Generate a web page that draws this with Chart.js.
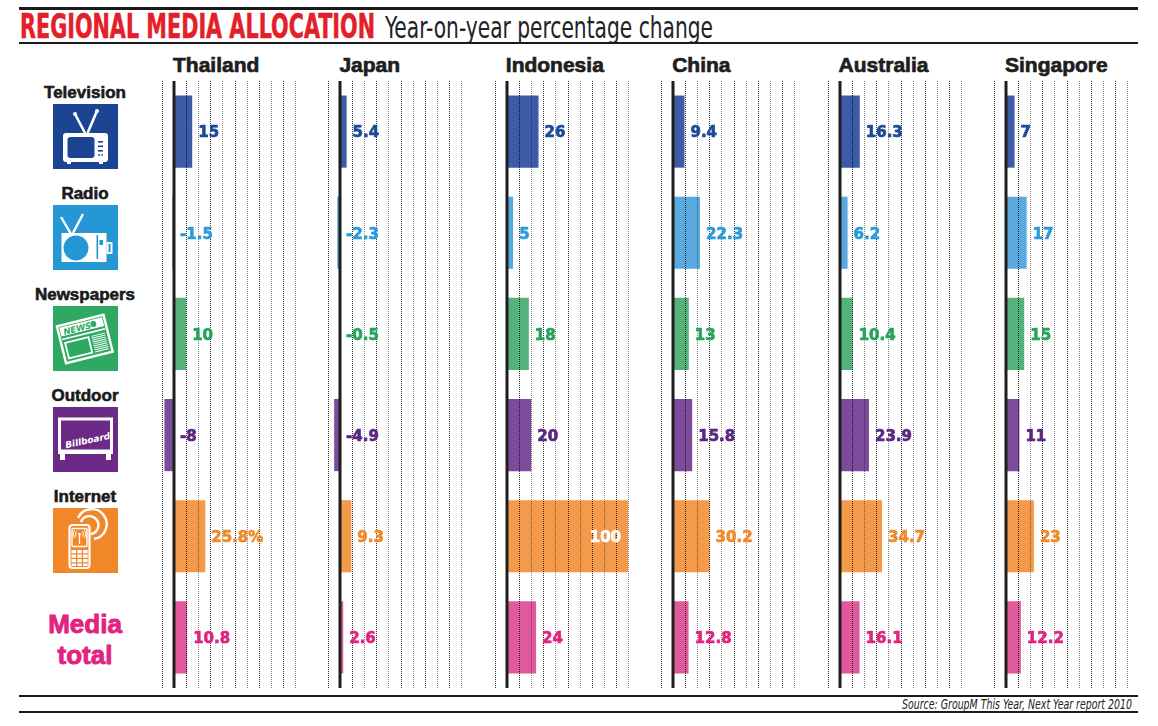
<!DOCTYPE html>
<html>
<head>
<meta charset="utf-8">
<script src="https://cdn.jsdelivr.net/npm/chart.js@4.4.1/dist/chart.umd.min.js"></script>
<style>
  html, body { margin: 0; padding: 0; background: #fff; }
  #page { position: relative; width: 1158px; height: 726px; overflow: hidden; font-family: "Liberation Sans", Arial, sans-serif; color: #1a1a1a; }
  .rule { position: absolute; left: 19px; width: 1119px; background: #1a1a1a; }
  .fit { position: absolute; white-space: nowrap; transform-origin: 0 50%; }
  #title { left: 20px; top: 10px; font: bold 33px "Liberation Sans Narrow", "DejaVu Sans Condensed", sans-serif; color: #e3202a; line-height: 34px; -webkit-text-stroke: 0.5px #e3202a; }
  #subtitle { left: 385px; top: 10px; font: 31px "Liberation Sans Narrow", "DejaVu Sans Condensed", sans-serif; color: #222; line-height: 34px; }
  #source { top: 696px; font: italic 14px "Liberation Sans Narrow", "DejaVu Sans Condensed", sans-serif; color: #222; line-height: 16px; }
  .country { position: absolute; top: 53px; font: bold 21px "Liberation Sans", Arial, sans-serif; line-height: 24px; color: #1e1e1e; -webkit-text-stroke: 0.7px #1e1e1e; }
  .media { position: absolute; width: 170px; text-align: center; font: bold 17px "Liberation Sans", Arial, sans-serif; line-height: 20px; color: #1a1a1a; -webkit-text-stroke: 0.6px #1a1a1a; }
  .icon { position: absolute; left: 53px; width: 65px; height: 65px; }
  .total { position: absolute; left: 0; width: 170px; text-align: center; font: bold 26px "Liberation Sans", Arial, sans-serif; line-height: 31px; color: #e2237f; -webkit-text-stroke: 0.9px #e2237f; }
  .panel { position: absolute; top: 81px; height: 607px; }
</style>
</head>
<body>
<div id="page">
  <div class="rule" style="top:7px;height:3px"></div>
  <div class="fit" id="title">REGIONAL MEDIA ALLOCATION</div>
  <div class="fit" id="subtitle">Year-on-year percentage change</div>
  <div class="rule" style="top:42px;height:2px"></div>
  <div class="rule" style="top:695px;height:2px"></div>
  <div class="fit" id="source">Source: GroupM This Year, Next Year report 2010</div>
  <div class="rule" style="top:711px;height:2px"></div>
  <div id="rows"></div>
  <div id="panels"></div>
</div>

<script>
// data
const countries = ['Thailand', 'Japan', 'Indonesia', 'China', 'Australia', 'Singapore']
const mediaTypes = ['Television', 'Radio', 'Newspapers', 'Outdoor', 'Internet', 'Media total']

const thailand = [15, -1.5, 10, -8, 25.8, 10.8]
const japan = [5.4, -2.3, -0.5, -4.9, 9.3, 2.6]
const indonesia = [26, 5, 18, 20, 100, 24]
const china = [9.4, 22.3, 13, 15.8, 30.2, 12.8]
const australia = [16.3, 6.2, 10.4, 23.9, 34.7, 16.1]
const singapore = [7, 17, 15, 11, 23, 12.2]

// only one cell in the original carries a % sign
const percentCell = { country: 'Thailand', media: 'Internet' }

const xMin = -10
const xMax = 100
const xStep = 10

const seriesByCountry = [thailand, japan, indonesia, china, australia, singapore]

// styles
const barColors = ['#3d5ca8', '#5aa9de', '#55b27b', '#7c4c9b', '#f39a4b', '#e05a9b']
const textColors = ['#1c4a99', '#2b9ad8', '#25a45c', '#5c2683', '#f08a2a', '#e2237f']
const iconColors = ['#1b4593', '#2597d4', '#2ea862', '#6a2a86', '#f0882a']

const firstZero = 174
const panelStep = 166.4
const unitPx = 133 / (xMax - xMin)
const pad = 2

// icons, plain white drawings on a coloured square
const icons = [
  // television
  `<line x1="22" y1="10" x2="32" y2="29" stroke="#fff" stroke-width="2.6" stroke-linecap="round"/>
   <line x1="44" y1="7" x2="35" y2="28" stroke="#fff" stroke-width="2.6" stroke-linecap="round"/>
   <circle cx="22" cy="10" r="2" fill="#fff"/><circle cx="44" cy="7" r="2" fill="#fff"/>
   <rect x="10" y="29" width="45" height="29" rx="3" fill="#fff"/>
   <rect x="14.5" y="33" width="27" height="21" rx="3" fill="COL"/>
   <rect x="45" y="37" width="5" height="1.6" fill="COL"/><rect x="45" y="41.5" width="5" height="1.6" fill="COL"/>
   <rect x="45" y="46" width="5" height="1.6" fill="COL"/>
   <circle cx="46" cy="51" r="0.9" fill="COL"/><circle cx="49" cy="51" r="0.9" fill="COL"/>
   <rect x="14" y="58" width="4" height="2" fill="#fff"/><rect x="46" y="58" width="4" height="2" fill="#fff"/>`,
  // radio
  `<line x1="8" y1="12" x2="18" y2="29" stroke="#fff" stroke-width="2.4"/>
   <line x1="30" y1="9" x2="20" y2="28" stroke="#fff" stroke-width="2.4"/>
   <rect x="8.5" y="28" width="45" height="29" fill="#fff"/>
   <circle cx="23" cy="43" r="12.5" fill="COL"/>
   <rect x="43.5" y="30" width="1.6" height="24" fill="COL"/>
   <rect x="46.5" y="35" width="3.5" height="5" fill="COL"/>
   <rect x="53.5" y="37" width="6" height="12" fill="#fff"/>
   <rect x="55.5" y="39" width="2" height="8" fill="COL"/>`,
  // newspapers
  `<g transform="rotate(-14 32 34)">
     <rect x="8" y="14" width="48" height="38" fill="none" stroke="#fff" stroke-width="2.4"/>
     <rect x="10" y="16" width="44" height="9" fill="#fff"/>
     <text x="13" y="24" font-family="DejaVu Sans" font-weight="bold" font-style="italic" font-size="8.5" fill="COL">NEWS</text>
     <circle cx="44" cy="20.5" r="3" fill="COL"/>
     <line x1="10" y1="28" x2="54" y2="28" stroke="#fff" stroke-width="1.6"/>
     <rect x="12" y="32" width="24" height="16" fill="none" stroke="#fff" stroke-width="1.8"/>
     <path d="M39 32h14M39 34h14M39 36h14M39 38h14M39 40h14M39 42h14M39 44h14M39 46h14M39 48h14" stroke="#fff" stroke-width="1"/>
   </g>`,
  // outdoor
  `<rect x="6.5" y="12" width="52" height="32" fill="none" stroke="#fff" stroke-width="3"/>
   <rect x="5" y="43" width="55" height="4" fill="#fff"/>
   <rect x="7" y="46" width="5" height="7" fill="#fff"/><rect x="53" y="46" width="5" height="7" fill="#fff"/>
   <text x="11" y="37" transform="rotate(-12 32 30)" font-family="DejaVu Sans" font-weight="bold" font-style="italic" font-size="9" fill="#fff">Billboard</text>`,
  // internet
  `<rect x="16.5" y="17" width="20" height="43" rx="3" fill="none" stroke="#fff" stroke-width="2.2"/>
   <rect x="19" y="20.5" width="15" height="18" rx="1" fill="none" stroke="#fff" stroke-width="1.4"/>
   <line x1="26.5" y1="27" x2="26.5" y2="36" stroke="#fff" stroke-width="1.3"/>
   <circle cx="26.5" cy="26" r="1.3" fill="#fff"/>
   <path d="M23.5 23.5a4 4 0 0 0 0 5M29.5 23.5a4 4 0 0 1 0 5M21.5 22a7 7 0 0 0 0 8M31.5 22a7 7 0 0 1 0 8" fill="none" stroke="#fff" stroke-width="1"/>
   <g fill="#fff">
     <rect x="18.5" y="42" width="4.5" height="3.3"/><rect x="24.3" y="42" width="4.5" height="3.3"/><rect x="30.1" y="42" width="4.5" height="3.3"/>
     <rect x="18.5" y="46.5" width="4.5" height="3.3"/><rect x="24.3" y="46.5" width="4.5" height="3.3"/><rect x="30.1" y="46.5" width="4.5" height="3.3"/>
     <rect x="18.5" y="51" width="4.5" height="3.3"/><rect x="24.3" y="51" width="4.5" height="3.3"/><rect x="30.1" y="51" width="4.5" height="3.3"/>
     <rect x="18.5" y="55.5" width="4.5" height="2.5"/><rect x="24.3" y="55.5" width="4.5" height="2.5"/><rect x="30.1" y="55.5" width="4.5" height="2.5"/>
   </g>
   <path d="M28 14a9 9 0 1 1 10 12" fill="none" stroke="#fff" stroke-width="2.4"/>
   <path d="M25 10a15 15 0 1 1 16 21" fill="none" stroke="#fff" stroke-width="2.4"/>`
]

const rows = document.getElementById('rows')
mediaTypes.forEach((m, i) => {
  const top = 81 + i * 101
  if (i < 5) {
    const lab = document.createElement('div')
    lab.className = 'media'
    lab.style.left = '0px'
    lab.style.top = (top + 2) + 'px'
    lab.textContent = m
    rows.appendChild(lab)
    const ic = document.createElement('div')
    ic.className = 'icon'
    ic.style.top = (top + 23) + 'px'
    ic.innerHTML = '<svg width="65" height="65" viewBox="0 0 65 65"><rect width="65" height="65" fill="' + iconColors[i] + '"/>' +
      icons[i].replace(/COL/g, iconColors[i]) + '</svg>'
    rows.appendChild(ic)
  } else {
    m.split(' ').forEach((w, k) => {
      const t = document.createElement('div')
      t.className = 'total'
      t.style.top = (top + 23 + k * 31) + 'px'
      t.textContent = k === 0 ? w : w.toLowerCase()
      rows.appendChild(t)
    })
  }
})

// dotted grid printed over the bars (multiply, so it darkens the colour)
const gridOnTop = {
  id: 'gridOnTop',
  afterDraw(chart) {
    const ctx = chart.ctx
    const xs = chart.scales.x
    const area = chart.chartArea
    ctx.save()
    xs.ticks.forEach(t => {
      const x = Math.round(xs.getPixelForValue(t.value))
      ctx.beginPath()
      if (t.value === 0) {
        ctx.globalCompositeOperation = 'source-over'
        ctx.setLineDash([])
        ctx.lineWidth = 3
        ctx.strokeStyle = '#1e1e1e'
        ctx.moveTo(x, area.top)
        ctx.lineTo(x, area.bottom)
      } else {
        ctx.globalCompositeOperation = 'multiply'
        ctx.setLineDash([1, 1])
        ctx.lineWidth = 1
        ctx.strokeStyle = Math.abs(t.value / xStep) % 2 === 1 ? '#333333' : '#8a8a8a'
        ctx.moveTo(x + 0.5, area.top)
        ctx.lineTo(x + 0.5, area.bottom)
      }
      ctx.stroke()
    })
    ctx.restore()
  }
}

const valueLabels = {
  id: 'valueLabels',
  afterDraw(chart) {
    const ctx = chart.ctx
    const xs = chart.scales.x
    const meta = chart.getDatasetMeta(0)
    const values = chart.data.datasets[0].data
    const zeroX = xs.getPixelForValue(0)
    ctx.save()
    ctx.font = 'bold 15px "DejaVu Sans", sans-serif'
    ctx.textBaseline = 'middle'
    ctx.lineWidth = 0.7
    meta.data.forEach((bar, i) => {
      const v = values[i]
      let text = String(v)
      if (chart.options.plugins.valueLabels.country === percentCell.country && mediaTypes[i] === percentCell.media) text += '%'
      let x, col
      if (v >= xMax) {
        col = '#fff'
        ctx.textAlign = 'right'
        x = bar.x - 7
      } else {
        col = textColors[i]
        ctx.textAlign = 'left'
        x = Math.max(bar.x, zeroX) + 6
      }
      ctx.fillStyle = col
      ctx.strokeStyle = col
      ctx.fillText(text, x, bar.y + 2)
      ctx.strokeText(text, x, bar.y + 2)
    })
    ctx.restore()
  }
}

const panels = document.getElementById('panels')
countries.forEach((name, c) => {
  const zero = firstZero + panelStep * c
  const left = zero + xMin * unitPx - pad

  const head = document.createElement('div')
  head.className = 'country'
  head.style.left = (zero - 1) + 'px'
  head.textContent = name
  panels.appendChild(head)

  const box = document.createElement('div')
  box.className = 'panel'
  box.style.left = left + 'px'
  box.style.width = (133 + pad * 2) + 'px'
  const cv = document.createElement('canvas')
  box.appendChild(cv)
  panels.appendChild(box)

  new Chart(cv, {
    type: 'bar',
    data: {
      labels: mediaTypes,
      datasets: [{
        data: seriesByCountry[c],
        backgroundColor: barColors,
        borderWidth: 0,
        categoryPercentage: 1,
        barPercentage: 0.713
      }]
    },
    options: {
      indexAxis: 'y',
      responsive: true,
      maintainAspectRatio: false,
      animation: false,
      layout: { padding: { left: pad, right: pad, top: 0, bottom: 0 } },
      scales: {
        x: {
          min: xMin,
          max: xMax,
          ticks: { display: false, stepSize: xStep },
          grid: { display: false, drawTicks: false },
          border: { display: false }
        },
        y: { display: false }
      },
      plugins: {
        legend: { display: false },
        tooltip: { enabled: false },
        valueLabels: { country: name }
      }
    },
    plugins: [gridOnTop, valueLabels]
  })
})

// squeeze narrow-font text to the widths used in the original
function fitWidth(el, target) {
  const w = el.getBoundingClientRect().width
  el.style.transform = 'scaleX(' + (target / w) + ')'
}
fitWidth(document.getElementById('title'), 355)
fitWidth(document.getElementById('subtitle'), 328)
const src = document.getElementById('source')
src.style.left = '902px'
fitWidth(src, 230)
</script>
</body>
</html>
